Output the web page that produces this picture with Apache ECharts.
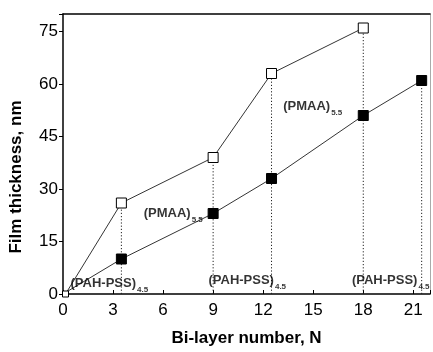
<!DOCTYPE html>
<html>
<head>
<meta charset="utf-8">
<script src="https://cdn.jsdelivr.net/npm/echarts@6/dist/echarts.min.js"></script>
<style>html,body{margin:0;padding:0;background:#fff}#c{width:433px;height:352px}</style>
</head>
<body>
<div id="c"></div>
<script>
// Data
const openX = [0.15, 3.5, 9, 12.5, 18];
const openY = [0, 26, 39, 63, 76];
const filledX = [0, 3.5, 9, 12.5, 18, 21.5];
const filledY = [0, 10, 23, 33, 51, 61];
const dropX = [3.5, 9, 12.5, 18, 21.5];
const dropTop = [26, 39, 63, 76, 61];
const annMain = ['(PAH-PSS)', '(PMAA)', '(PAH-PSS)', '(PMAA)', '(PAH-PSS)'];
const annSub = ['4.5', '5.5', '4.5', '5.5', '4.5'];
const annX = [0.45, 4.84, 8.72, 13.2, 17.32];
const annY = [3.1, 23.1, 3.96, 53.5, 3.96];
const xTicks = [0, 3, 6, 9, 12, 15, 18, 21];
const yTicks = [0, 15, 30, 45, 60, 75];

const FONT = '"Liberation Sans", Arial, sans-serif';
const chart = echarts.init(document.getElementById('c'), null, {renderer: 'canvas'});

const series = [];
dropX.forEach((x, i) => {
  series.push({
    type: 'line', data: [[x, 0], [x, dropTop[i]]], symbol: 'none', silent: true,
    lineStyle: {color: '#222', width: 1, type: [1.2, 2]}, z: 1
  });
});
series.push({
  type: 'line', name: 'open', data: openX.map((x, i) => [x, openY[i]]),
  symbol: 'rect', symbolSize: (v, p) => p.dataIndex === 0 ? 6 : 10,
  lineStyle: {color: '#000', width: 0.8},
  itemStyle: {color: '#fff', borderColor: '#000', borderWidth: 1},
  clip: false, z: 3
});
series.push({
  type: 'line', name: 'filled', data: filledX.map((x, i) => [x, filledY[i]]),
  symbol: 'rect', symbolSize: (v, p) => p.dataIndex === 0 ? 0 : 10,
  lineStyle: {color: '#000', width: 0.8},
  itemStyle: {color: '#000', borderColor: '#000', borderWidth: 1},
  clip: false, z: 3
});
series.push({
  type: 'scatter', data: annX.map((x, i) => [x, annY[i]]), symbolSize: 0, silent: true, z: 5,
  label: {
    show: true, position: 'right', distance: 0,
    formatter: p => '{a|' + annMain[p.dataIndex] + '}{b|' + annSub[p.dataIndex] + '}',
    rich: {
      a: {fontFamily: FONT, fontSize: 13, fontWeight: 'bold', color: '#000'},
      b: {fontFamily: FONT, fontSize: 8, fontWeight: 'bold', color: '#000', padding: [13, 0, 0, 1]}
    }
  }
});

chart.setOption({
  animation: false,
  backgroundColor: '#fff',
  grid: {left: 62.5, right: 1, top: 14, bottom: 55.5, containLabel: false},
  xAxis: [{
    type: 'value', min: 0, max: 22, interval: 3,
    name: 'Bi-layer number, N', nameLocation: 'middle', nameGap: 36,
    nameTextStyle: {fontFamily: FONT, fontSize: 17, fontWeight: 'bold', color: '#000'},
    axisLine: {show: true, onZero: false, lineStyle: {color: '#000', width: 1.5}},
    axisTick: {show: true, inside: true, length: 4, lineStyle: {color: '#000', width: 1}},
    axisLabel: {fontFamily: FONT, fontSize: 17, color: '#000', margin: 8,
      formatter: v => xTicks.indexOf(v) >= 0 ? String(v) : ''},
    splitLine: {show: false}
  }, {
    type: 'value', position: 'top', min: 0, max: 22,
    axisLine: {show: true, onZero: false, lineStyle: {color: '#000', width: 1.5}},
    axisTick: {show: false}, axisLabel: {show: false}, splitLine: {show: false}
  }],
  yAxis: [{
    type: 'value', min: 0, max: 80, interval: 15,
    name: 'Film thickness, nm', nameLocation: 'middle', nameGap: 38, nameRotate: 90,
    nameTextStyle: {fontFamily: FONT, fontSize: 17, fontWeight: 'bold', color: '#000', padding: [0, 46, 0, 0]},
    axisLine: {show: true, onZero: false, lineStyle: {color: '#000', width: 1.5}},
    axisTick: {show: true, inside: false, length: 4, lineStyle: {color: '#000', width: 1}},
    axisLabel: {fontFamily: FONT, fontSize: 17, color: '#000', margin: 5,
      formatter: v => yTicks.indexOf(v) >= 0 ? String(v) : ''},
    splitLine: {show: false}
  }, {
    type: 'value', position: 'right', min: 0, max: 80,
    axisLine: {show: true, onZero: false, lineStyle: {color: '#aaa', width: 1}},
    axisTick: {show: false}, axisLabel: {show: false}, splitLine: {show: false}
  }],
  series: series
});
</script>
</body>
</html>
